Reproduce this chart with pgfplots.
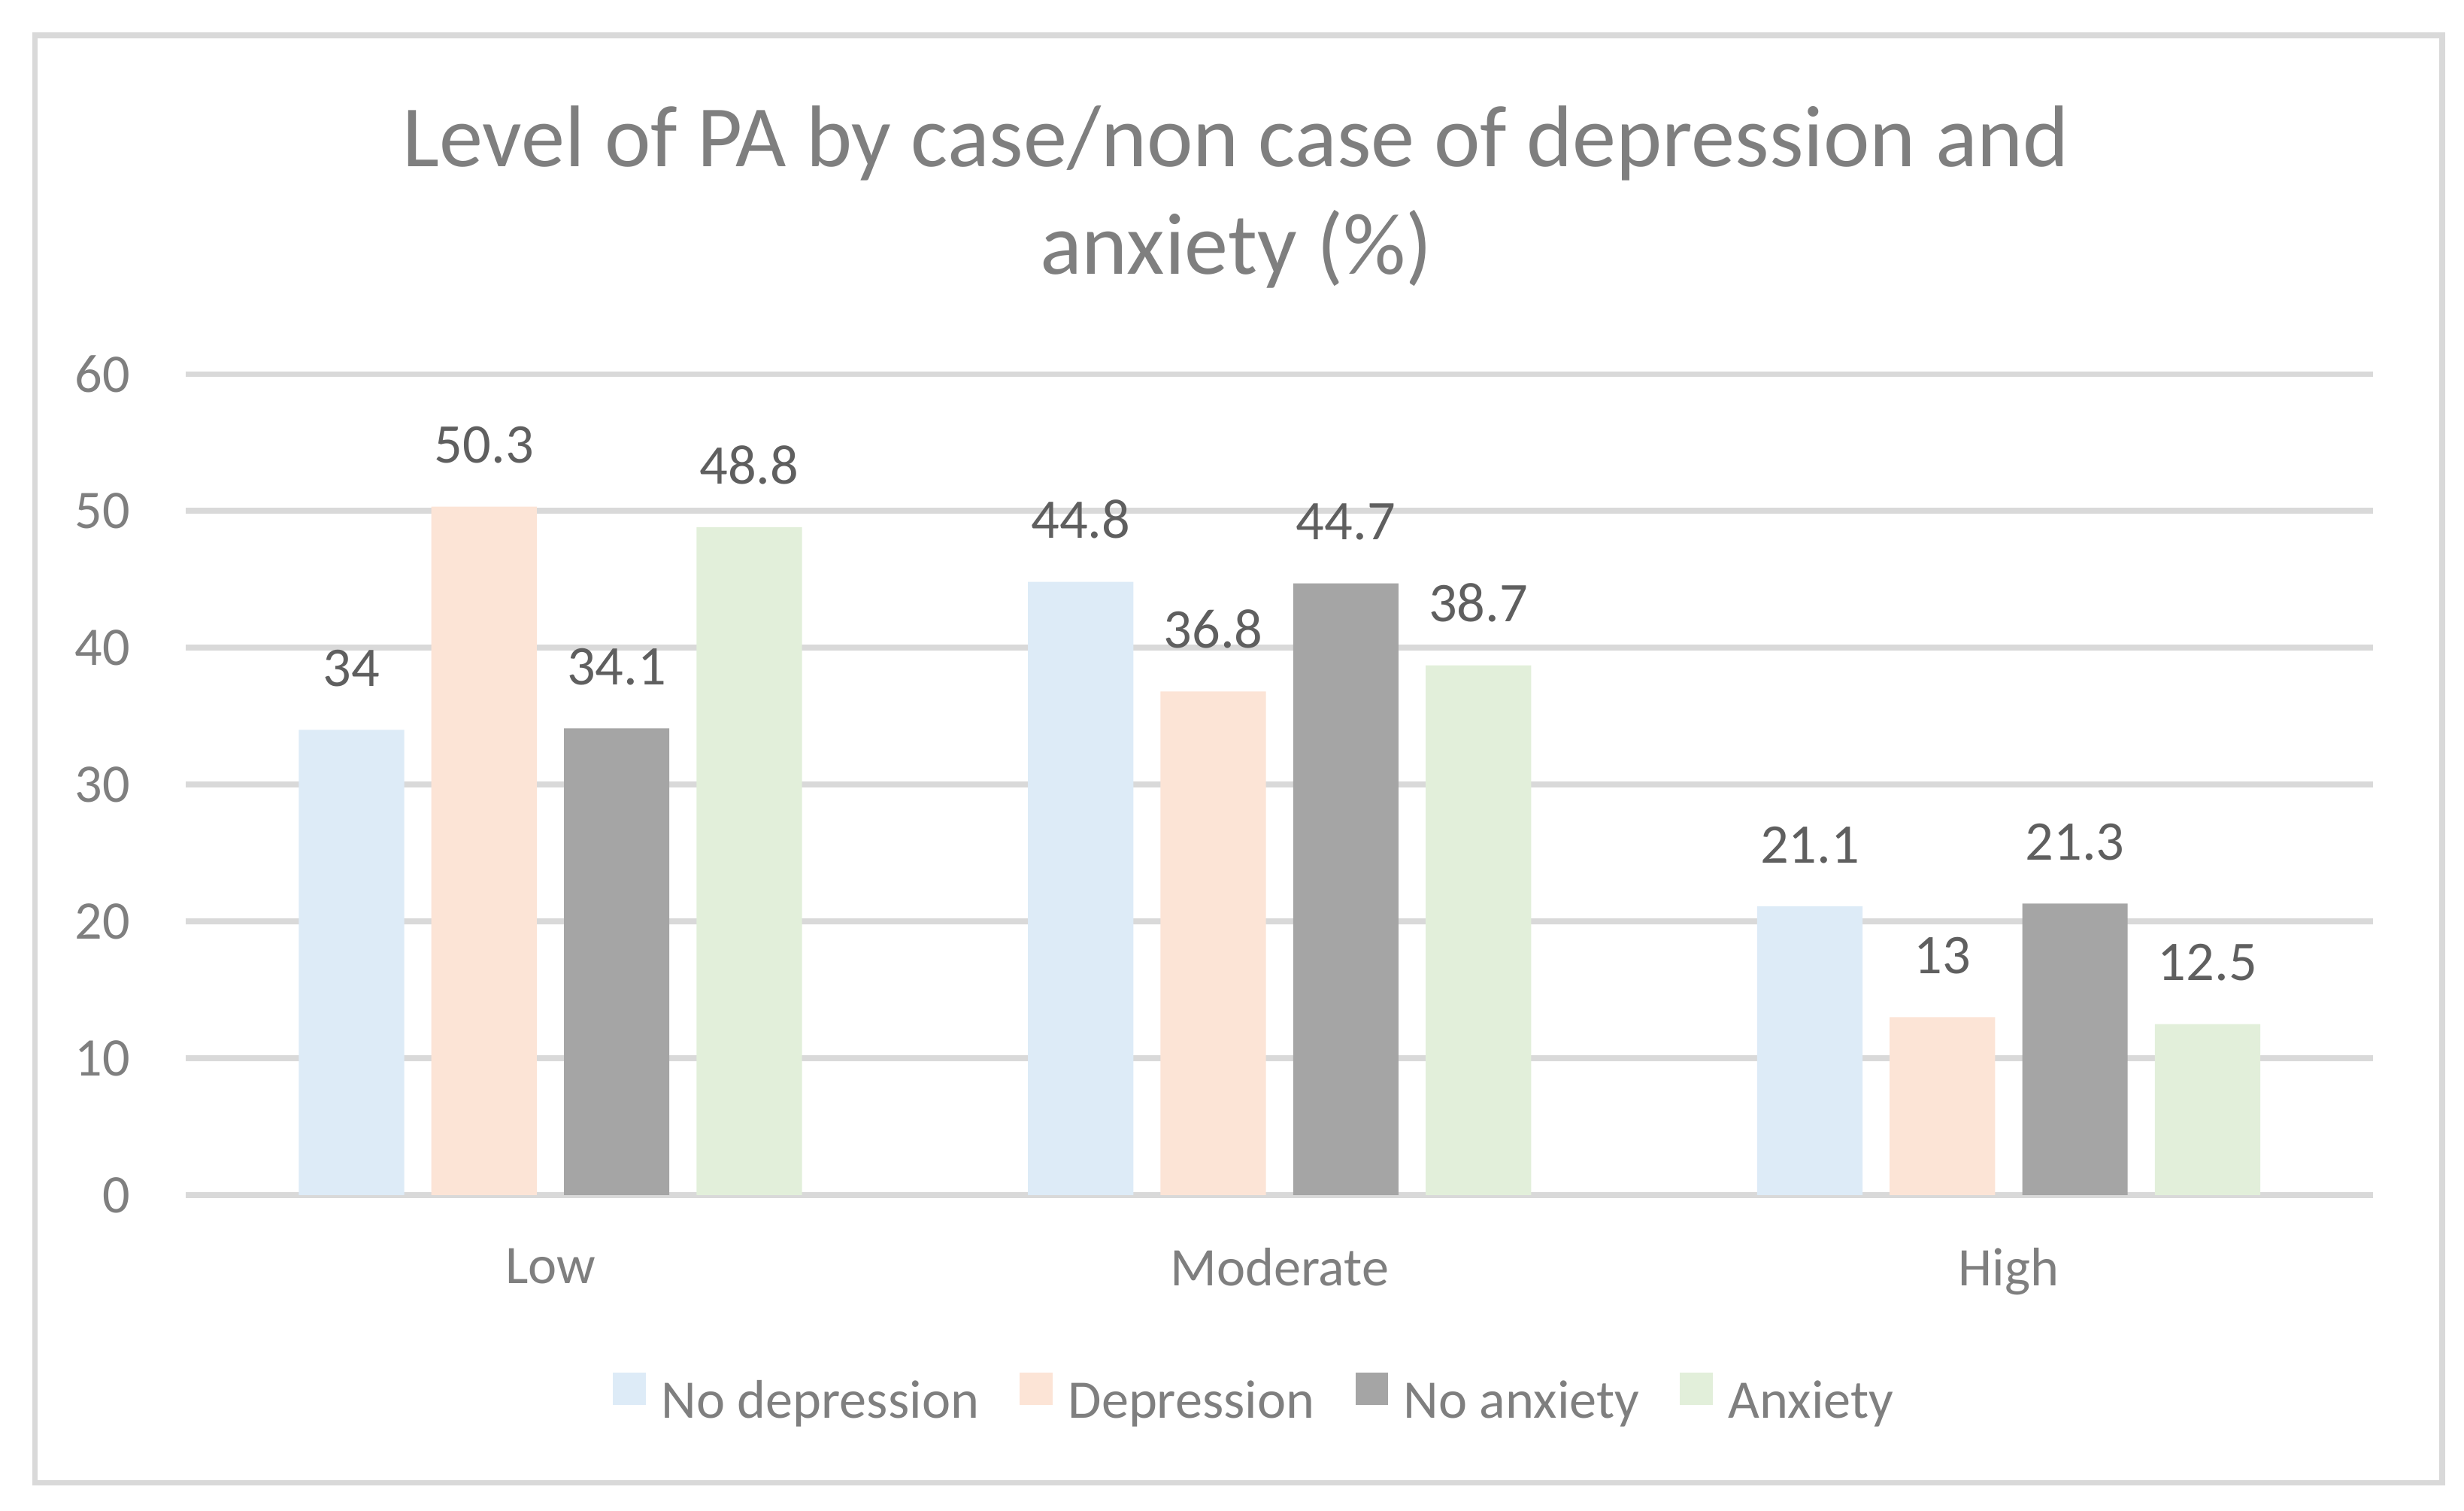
\documentclass[border=0pt]{standalone}
\usepackage{fontspec}
\setmainfont{Carlito}
\usepackage{pgfplots}
\pgfplotsset{compat=1.18}

\definecolor{cBlue}{HTML}{DDEBF7}
\definecolor{cPeach}{HTML}{FCE4D6}
\definecolor{cGray}{HTML}{A5A5A5}
\definecolor{cGreen}{HTML}{E2EFDA}
\definecolor{gridgray}{HTML}{D9D9D9}
\definecolor{txtgray}{HTML}{7F7F7F}
\definecolor{lblgray}{HTML}{5F5F5F}

\begin{document}
\begin{tikzpicture}
  \useasboundingbox (0,0) rectangle (453.5pt,277.9pt);
  \draw[gridgray, line width=1pt] (6.4pt,5.1pt) rectangle (449.5pt,271.4pt);

  \node[anchor=base, text=txtgray, font=\fontsize{16.1}{19}\selectfont]
    at (227.5pt,247.3pt) {Level of PA by case/non case of depression and};
  \node[anchor=base, text=txtgray, font=\fontsize{16.1}{19}\selectfont]
    at (227.5pt,227.5pt) {anxiety (\%)};

  \begin{axis}[
      at={(34.2pt,58pt)}, anchor=south west,
      scale only axis, width=402.6pt, height=151.1pt,
      ybar=5pt, bar width=19.4pt,
      xmin=-0.5, xmax=2.5, ymin=0, ymax=60,
      xtick={0,1,2}, xticklabels={Low,Moderate,High},
      ytick={0,10,20,30,40,50,60},
      /pgf/number format/assume math mode=true,
      axis line style={draw=none},
      tick style={draw=none},
      ymajorgrids, major grid style={gridgray, line width=1pt},
      ticklabel style={font=\fontsize{10}{12}\selectfont, text=txtgray},
      yticklabel style={xshift=-6.7pt},
      xticklabel style={yshift=-2pt},
      nodes near coords,
      nodes near coords style={font=\fontsize{10.3}{12}\selectfont, text=lblgray, yshift=4.4pt},
      legend columns=4,
      legend image code/.code={\fill[#1] (0pt,-0.3pt) rectangle (6pt,5.7pt);},
      legend style={at={(0.488,-0.2537)}, anchor=center, draw=none, fill=none,
        inner sep=0pt, font=\fontsize{10}{12}\selectfont, text=txtgray,
        nodes={inner xsep=0pt},
        /tikz/every odd column/.append style={column sep=2.9pt},
        /tikz/every even column/.append style={column sep=7.5pt}},
    ]
    \addplot[fill=cBlue, draw=none] coordinates {(0,34) (1,44.8) (2,21.1)};
    \addplot[fill=cPeach, draw=none] coordinates {(0,50.3) (1,36.8) (2,13)};
    \addplot[fill=cGray, draw=none] coordinates {(0,34.1) (1,44.7) (2,21.3)};
    \addplot[fill=cGreen, draw=none] coordinates {(0,48.8) (1,38.7) (2,12.5)};
    \legend{No depression, Depression, No anxiety, Anxiety}
  \end{axis}
\end{tikzpicture}
\end{document}
